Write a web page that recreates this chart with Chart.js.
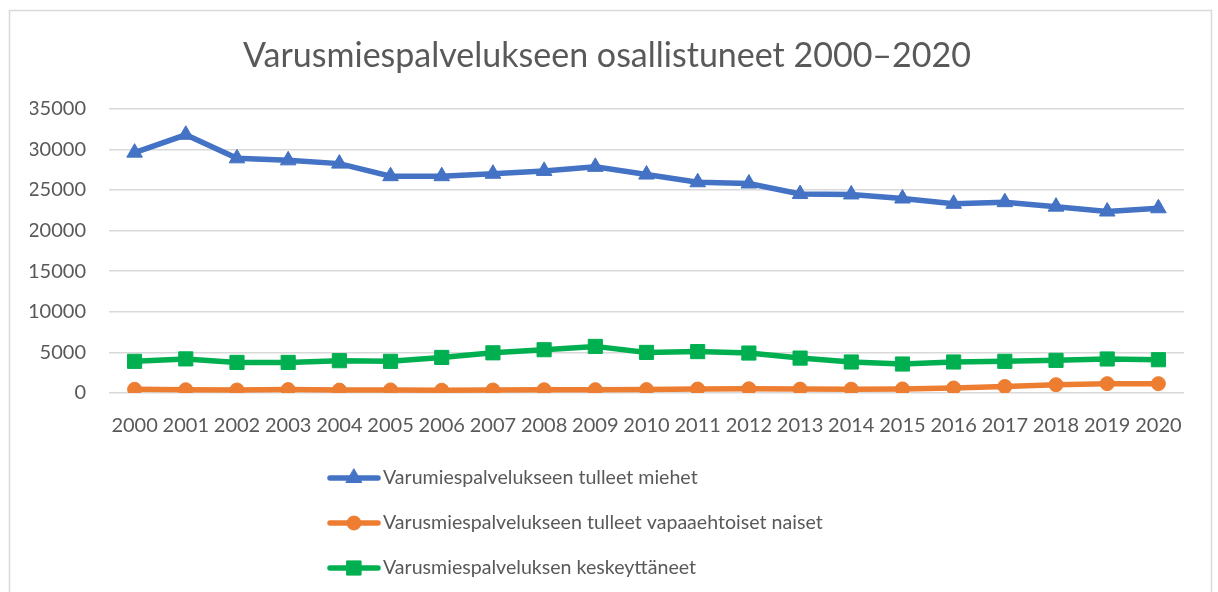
<!DOCTYPE html>
<html>
<head>
<meta charset="utf-8">
<script src="https://cdn.jsdelivr.net/npm/chart.js@4.4.1/dist/chart.umd.min.js"></script>
<style>
	html, body { margin: 0; padding: 0; background: #fff; }
	#wrap { width: 1218px; height: 592px; }
</style>
</head>
<body>
<div id="wrap"><canvas id="myChart"></canvas></div>
<script>
var years = ['2000', '2001', '2002', '2003', '2004', '2005', '2006', '2007', '2008', '2009', '2010',
	'2011', '2012', '2013', '2014', '2015', '2016', '2017', '2018', '2019', '2020'];
var men = [29600, 31800, 28900, 28650, 28250, 26700, 26700, 27000, 27350, 27850, 26900,
	25950, 25800, 24500, 24450, 23950, 23300, 23500, 22950, 22350, 22750];
var women = [450, 400, 370, 420, 360, 380, 340, 370, 400, 410, 420,
	490, 520, 480, 470, 500, 620, 800, 1020, 1150, 1150];
var dropouts = [3900, 4200, 3770, 3770, 3980, 3900, 4380, 4950, 5330, 5740, 5000,
	5100, 4920, 4300, 3820, 3570, 3820, 3900, 4020, 4190, 4100];
var seriesNames = ['Varumiespalvelukseen tulleet miehet',
	'Varusmiespalvelukseen tulleet vapaaehtoiset naiset',
	'Varusmiespalveluksen keskeyttäneet'];
var yTicks = { min: 0, max: 35000, step: 5000 };

var textColor = '#595959';
var gridColor = '#d9d9d9';

Chart.defaults.font.family = 'Lato, "Open Sans", sans-serif';
Chart.defaults.color = textColor;

// outer frame like the office chart area (left, top, right edges)
var framePlugin = {
	id: 'frame',
	beforeDraw: function(chart) {
		var ctx = chart.ctx;
		ctx.save();
		ctx.fillStyle = '#fff';
		ctx.fillRect(0, 0, chart.width, chart.height);
		ctx.strokeStyle = gridColor;
		ctx.lineWidth = 1.5;
		ctx.beginPath();
		ctx.moveTo(9.5, chart.height);
		ctx.lineTo(9.5, 10.5);
		ctx.lineTo(1211.5, 10.5);
		ctx.lineTo(1211.5, chart.height);
		ctx.stroke();
		ctx.restore();
	}
};

// legend stacked in rows, line + marker like the original
var rowLegend = {
	id: 'rowLegend',
	afterDraw: function(chart) {
		var ctx = chart.ctx;
		var x0 = 330, x1 = 378, tx = 383;
		var rows = [478, 523, 568];
		ctx.save();
		chart.data.datasets.forEach(function(ds, i) {
			var y = rows[i];
			ctx.strokeStyle = ds.borderColor;
			ctx.lineWidth = ds.borderWidth;
			ctx.lineCap = 'round';
			ctx.beginPath();
			ctx.moveTo(x0, y);
			ctx.lineTo(x1, y);
			ctx.stroke();
			ctx.fillStyle = ds.backgroundColor;
			ctx.strokeStyle = ds.borderColor;
			ctx.lineWidth = 1;
			Chart.helpers.drawPoint(ctx, {
				pointStyle: ds.pointStyle,
				radius: ds.pointRadius,
				rotation: 0,
				borderWidth: 1
			}, (x0 + x1) / 2, y);
			ctx.fillStyle = textColor;
			ctx.font = '19.6px Lato, "Open Sans", sans-serif';
			ctx.textBaseline = 'middle';
			ctx.textAlign = 'left';
			ctx.fillText(ds.label, tx, y);
		});
		ctx.restore();
	}
};

var myChart = new Chart(document.getElementById('myChart'), {
	type: 'line',
	data: {
		labels: years,
		datasets: [{
			label: seriesNames[0],
			data: men,
			borderColor: '#4472c4',
			backgroundColor: '#4472c4',
			borderWidth: 5.5,
			pointStyle: 'triangle',
			pointRadius: 9,
			pointBorderWidth: 1
		}, {
			label: seriesNames[1],
			data: women,
			borderColor: '#ed7d31',
			backgroundColor: '#ed7d31',
			borderWidth: 5.5,
			pointStyle: 'circle',
			pointRadius: 7,
			pointBorderWidth: 1
		}, {
			label: seriesNames[2],
			data: dropouts,
			borderColor: '#00b050',
			backgroundColor: '#00b050',
			borderWidth: 5.5,
			pointStyle: 'rect',
			pointRadius: 10,
			pointBorderWidth: 1
		}]
	},
	options: {
		responsive: true,
		maintainAspectRatio: false,
		animation: false,
		layout: {
			padding: { left: 30, right: 34, top: 0, bottom: 133 }
		},
		plugins: {
			legend: { display: false },
			tooltip: { enabled: false },
			title: {
				display: true,
				text: 'Varusmiespalvelukseen osallistuneet 2000–2020',
				color: '#595959',
				font: { size: 34, weight: 'normal', lineHeight: 1.2 },
				padding: { top: 36, bottom: 32 }
			}
		},
		elements: {
			line: { tension: 0 }
		},
		scales: {
			x: {
				offset: true,
				grid: { display: false, drawTicks: false, tickLength: 0 },
				border: { display: false },
				ticks: {
					padding: 21,
					maxRotation: 0,
					autoSkip: false,
					font: { size: 20 }
				}
			},
			y: {
				min: yTicks.min,
				max: yTicks.max,
				afterFit: function(scale) { scale.width = 79; },
				grid: { color: gridColor, lineWidth: 1.5, drawTicks: false, tickLength: 0 },
				border: { display: false },
				ticks: {
					stepSize: yTicks.step,
					padding: 23,
					font: { size: 20 },
					callback: function(v) { return String(v); }
				}
			}
		}
	},
	plugins: [framePlugin, rowLegend]
});
</script>
</body>
</html>
